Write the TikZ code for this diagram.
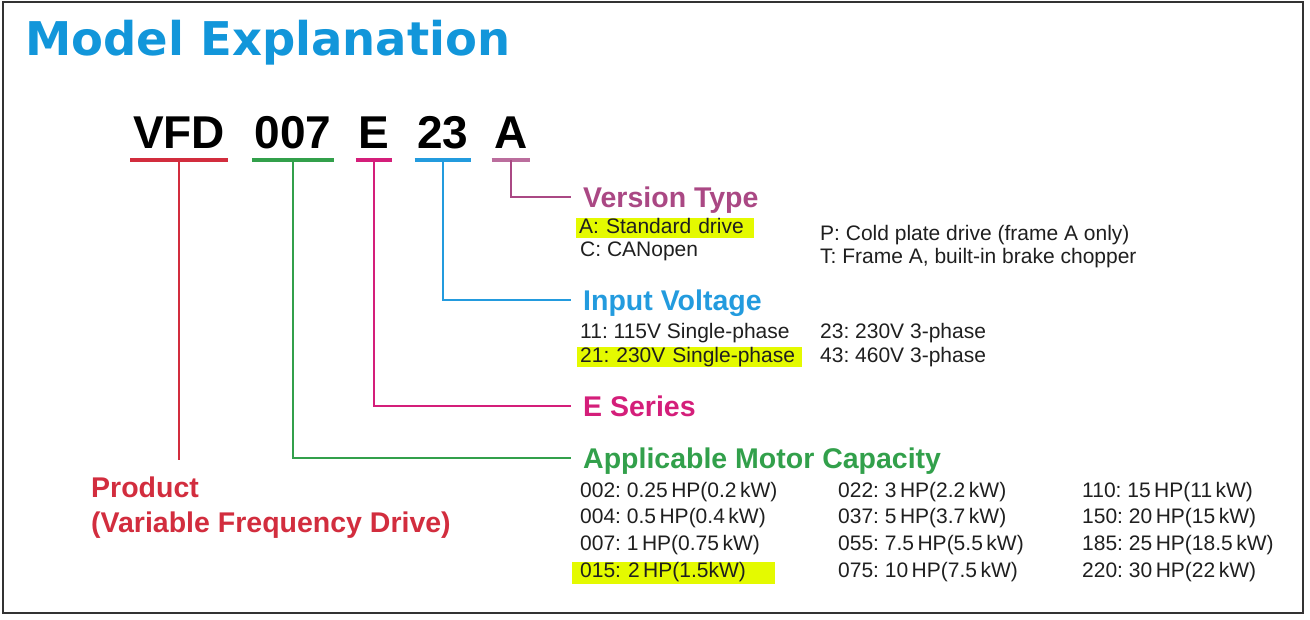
\documentclass[tikz,border=0pt]{standalone}
\usepackage{fontspec}
\setmainfont{Liberation Sans}
\newfontfamily\titlefont{DejaVu Sans}
\usetikzlibrary{positioning, calc}
\definecolor{titleblue}{RGB}{18,150,218}
\definecolor{prodred}{RGB}{210,45,62}
\definecolor{capgreen}{RGB}{50,160,75}
\definecolor{sermagenta}{RGB}{212,30,122}
\definecolor{voltblue}{RGB}{35,155,222}
\definecolor{vermauve}{RGB}{170,72,132}
\definecolor{hlyellow}{RGB}{228,250,0}
\frenchspacing
\tikzset{
  code/.style={font=\fontsize{46}{46}\selectfont\bfseries, text height=33pt, text depth=0pt,
    inner xsep=2.5pt, inner ysep=12pt, anchor=base},
  uline/.style={draw=#1, line width=3.5pt},
  stem/.style={draw=#1, line width=2.5pt},
  head/.style={font=\fontsize{28.5}{28.5}\selectfont\bfseries, text=#1, text height=20pt,
    text depth=0pt, inner xsep=12pt, inner ysep=0pt, anchor=base west},
  body/.style={font=\fontsize{21}{21}\selectfont, text=black!88, text height=15pt,
    text depth=5pt, inner xsep=3pt, inner ysep=0pt, anchor=base west},
  hl/.style={fill=hlyellow, align=left, text width=#1},
}
\begin{document}
\begin{tikzpicture}[x=1pt, y=-1pt]
  \useasboundingbox (0,0) rectangle (1310,619);
  \draw[black!80, line width=2pt] (3,2) rectangle (1303,613);

  \node[font=\fontsize{46.5}{46.5}\selectfont\titlefont\bfseries, text=titleblue,
    anchor=base west, inner sep=0pt] (title) at (25,55) {Model Explanation};

  % model code
  \node[code] (cVFD) at (179,148) {VFD};
  \node[code] (c007) at (293,148) {007};
  \node[code] (cE) at (374,148) {E};
  \node[code] (c23) at (443,148) {23};
  \node[code] (cA) at (511,148) {A};
  \draw[uline=prodred] (cVFD.south west) -- (cVFD.south east);
  \draw[uline=capgreen] (c007.south west) -- (c007.south east);
  \draw[uline=sermagenta] (cE.south west) -- (cE.south east);
  \draw[uline=voltblue] (c23.south west) -- (c23.south east);
  \draw[uline=vermauve!80] (cA.south west) -- (cA.south east);

  % headings
  \node[head=vermauve] (hVersion) at (571,207) {Version Type};
  \node[head=voltblue] (hVoltage) at (571,310) {Input Voltage};
  \node[head=sermagenta] (hSeries) at (571,416) {E Series};
  \node[head=capgreen] (hCapacity) at (571,468) {Applicable Motor Capacity};
  \node[font=\fontsize{28.5}{35}\selectfont\bfseries, text=prodred, align=left,
    inner sep=0pt, anchor=north west] (hProduct) at (91,477)
    {Product\\(Variable Frequency Drive)};

  % connectors
  \draw[stem=vermauve] (cA.south) |- (hVersion.west);
  \draw[stem=voltblue] (c23.south) |- (hVoltage.west);
  \draw[stem=sermagenta] (cE.south) |- (hSeries.west);
  \draw[stem=capgreen] (c007.south) |- (hCapacity.west);
  \draw[stem=prodred] (cVFD.south) -- ($(cVFD.south |- hProduct.north)+(0,-17)$);

  % version type
  \node[body, hl=172pt] (vA) at (576,233) {A: Standard drive};
  \node[body] (vC) at (577,256) {C: CANopen};
  \node[body] (vP) at (817,240) {P: Cold plate drive (frame A only)};
  \node[body] (vT) at (817,263) {T: Frame A, built-in brake chopper};

  % input voltage
  \node[body] (u11) at (577,338) {11: 115V Single-phase};
  \node[body, hl=219pt] (u21) at (577,362) {21: 230V Single-phase};
  \node[body] (u23) at (817,338) {23: 230V 3-phase};
  \node[body] (u43) at (817,362) {43: 460V 3-phase};

  % motor capacity
  \node[body] (m002) at (577,497) {002: 0.25\,HP(0.2\,kW)};
  \node[body] (m004) at (577,523) {004: 0.5\,HP(0.4\,kW)};
  \node[body] (m007) at (577,550) {007: 1\,HP(0.75\,kW)};
  \node[body, hl=187pt, inner xsep=8pt, text depth=7pt] (m015) at (572,577)
    {015: 2\,HP(1.5kW)};
  \node[body] (m022) at (835,497) {022: 3\,HP(2.2\,kW)};
  \node[body] (m037) at (835,523) {037: 5\,HP(3.7\,kW)};
  \node[body] (m055) at (835,550) {055: 7.5\,HP(5.5\,kW)};
  \node[body] (m075) at (835,577) {075: 10\,HP(7.5\,kW)};
  \node[body] (m110) at (1079,497) {110: 15\,HP(11\,kW)};
  \node[body] (m150) at (1079,523) {150: 20\,HP(15\,kW)};
  \node[body] (m185) at (1079,550) {185: 25\,HP(18.5\,kW)};
  \node[body] (m220) at (1079,577) {220: 30\,HP(22\,kW)};
\end{tikzpicture}
\end{document}
